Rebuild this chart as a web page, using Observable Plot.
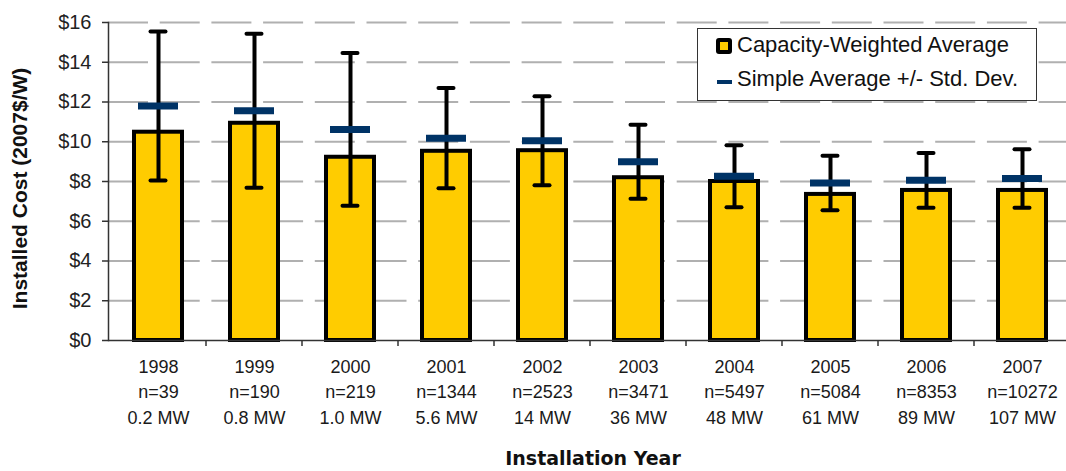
<!DOCTYPE html>
<html>
<head>
<meta charset="utf-8">
<script src="https://cdn.jsdelivr.net/npm/d3@7"></script>
<script src="https://cdn.jsdelivr.net/npm/@observablehq/plot@0.6"></script>
<style>
  html, body { margin: 0; padding: 0; background: #fff; }
  #wrap { position: relative; width: 1066px; height: 471px; overflow: hidden; font-family: "Liberation Sans", Arial, sans-serif; }
  .legend { position: absolute; left: 697px; top: 28px; width: 340px; height: 73px; box-sizing: border-box;
            border: 1.5px solid #333; background: #fff; }
  .legend .row { position: absolute; left: 39px; font-size: 22px; line-height: 24px; color: #111; white-space: nowrap; }
  .legend .sw1 { position: absolute; left: 18px; top: 9px; width: 16px; height: 16px; background: #000; border-radius: 3px; }
  .legend .sw1 i { position: absolute; left: 4px; top: 4px; width: 8px; height: 8px; background: #FFCC00; }
  .legend .sw2 { position: absolute; left: 19px; top: 51px; width: 15px; height: 4px; background: #003366; }
</style>
</head>
<body>
<div id="wrap"></div>
<script>
// ---- data ----
const years = ["1998", "1999", "2000", "2001", "2002", "2003", "2004", "2005", "2006", "2007"];
const capacityWeighted = [10.48, 10.93, 9.22, 9.52, 9.55, 8.19, 8.0, 7.35, 7.55, 7.55];
const simpleAverage = [11.8, 11.56, 10.62, 10.18, 10.05, 8.99, 8.27, 7.92, 8.06, 8.15];
const stdDev = [3.75, 3.88, 3.84, 2.52, 2.24, 1.86, 1.56, 1.37, 1.38, 1.47];
const counts = [39, 190, 219, 1344, 2523, 3471, 5497, 5084, 8353, 10272];
const capacityMW = ["0.2", "0.8", "1.0", "5.6", "14", "36", "48", "61", "89", "107"];
const yTicks = [0, 2, 4, 6, 8, 10, 12, 14, 16];
const seriesNames = ["Capacity-Weighted Average", "Simple Average +/- Std. Dev."];
const yTitle = "Installed Cost (2007$/W)";
const xTitle = "Installation Year";

const data = years.map((year, i) => ({
  year,
  cw: capacityWeighted[i],
  avg: simpleAverage[i],
  lo: simpleAverage[i] - stdDev[i],
  hi: simpleAverage[i] + stdDev[i],
  label: `${year}\nn=${counts[i]}\n${capacityMW[i]} MW`
}));

// ticks between categories on the x axis (drawn from the band scale)
function boundaryTicks(index, scales, values, dimensions) {
  const x = scales.x;
  const step = x(years[1]) - x(years[0]);
  const bw = (scales.scales && scales.scales.x && scales.scales.x.bandwidth) || step * 0.5;
  const y0 = dimensions.height - dimensions.marginBottom;
  const g = d3.create("svg:g").attr("stroke", "#333").attr("stroke-width", 1.5);
  years.slice(0, -1).forEach(yr => {
    const bx = x(yr) + bw / 2 + step / 2;
    g.append("line").attr("x1", bx).attr("x2", bx).attr("y1", y0).attr("y2", y0 + 6);
  });
  return g.node();
}

const chart = Plot.plot({
  width: 1066,
  height: 471,
  marginTop: 22,
  marginBottom: 131,
  marginLeft: 108,
  marginRight: -5,
  style: { fontFamily: "Liberation Sans, Arial, sans-serif", color: "#222", background: "transparent" },
  x: { domain: years, paddingInner: 0.5, paddingOuter: 0.25, axis: null },
  y: { domain: [0, 16] },
  marks: [
    Plot.ruleY(yTicks.filter(d => d > 0), { stroke: "#b0b0b0", strokeWidth: 2, strokeDasharray: "40,11.7" }),
    Plot.axisY({ ticks: yTicks, tickFormat: d => "$" + d, tickSize: 6, tickPadding: 11, fontSize: 20, label: null, stroke: "#333", strokeWidth: 1.5 }),
    Plot.frame({ anchor: "left", stroke: "#333", strokeWidth: 1.5 }),
    Plot.barY(data, { x: "year", y: "cw", fill: "#FFCC00", stroke: "#000", strokeWidth: 4 }),
    Plot.ruleX(data, { x: "year", y1: "lo", y2: "hi", stroke: "#000", strokeWidth: 4 }),
    Plot.tickY(data, { x: "year", y: "hi", stroke: "#000", strokeWidth: 4, strokeLinecap: "round", insetLeft: 16.5, insetRight: 16.5 }),
    Plot.tickY(data, { x: "year", y: "lo", stroke: "#000", strokeWidth: 4, strokeLinecap: "round", insetLeft: 16.5, insetRight: 16.5 }),
    Plot.tickY(data, { x: "year", y: "avg", stroke: "#003366", strokeWidth: 7, insetLeft: 4, insetRight: 4 }),
    Plot.ruleY([0], { stroke: "#333", strokeWidth: 1.5 }),
    boundaryTicks,
    Plot.text(data, { x: "year", text: "label", frameAnchor: "bottom", lineAnchor: "top", dy: 14, lineHeight: 1.42, fontSize: 18, fill: "#1a1a1a" }),
    Plot.text([yTitle], { frameAnchor: "left", textAnchor: "middle", dx: -88, dy: 7, rotate: -90, fontSize: 21, fontWeight: "bold", fill: "#111" }),
    Plot.text([xTitle], { frameAnchor: "bottom", dx: 3, dy: 124, fontSize: 19, fontWeight: "bold", fontFamily: "DejaVu Sans", fill: "#111" })
  ]
});

const wrap = document.getElementById("wrap");
wrap.appendChild(chart);

const legend = document.createElement("div");
legend.className = "legend";
legend.innerHTML = `<span class="sw1"><i></i></span><span class="row" style="top:4px">${seriesNames[0]}</span>` +
  `<span class="sw2"></span><span class="row" style="top:38px">${seriesNames[1]}</span>`;
wrap.appendChild(legend);
</script>
</body>
</html>
